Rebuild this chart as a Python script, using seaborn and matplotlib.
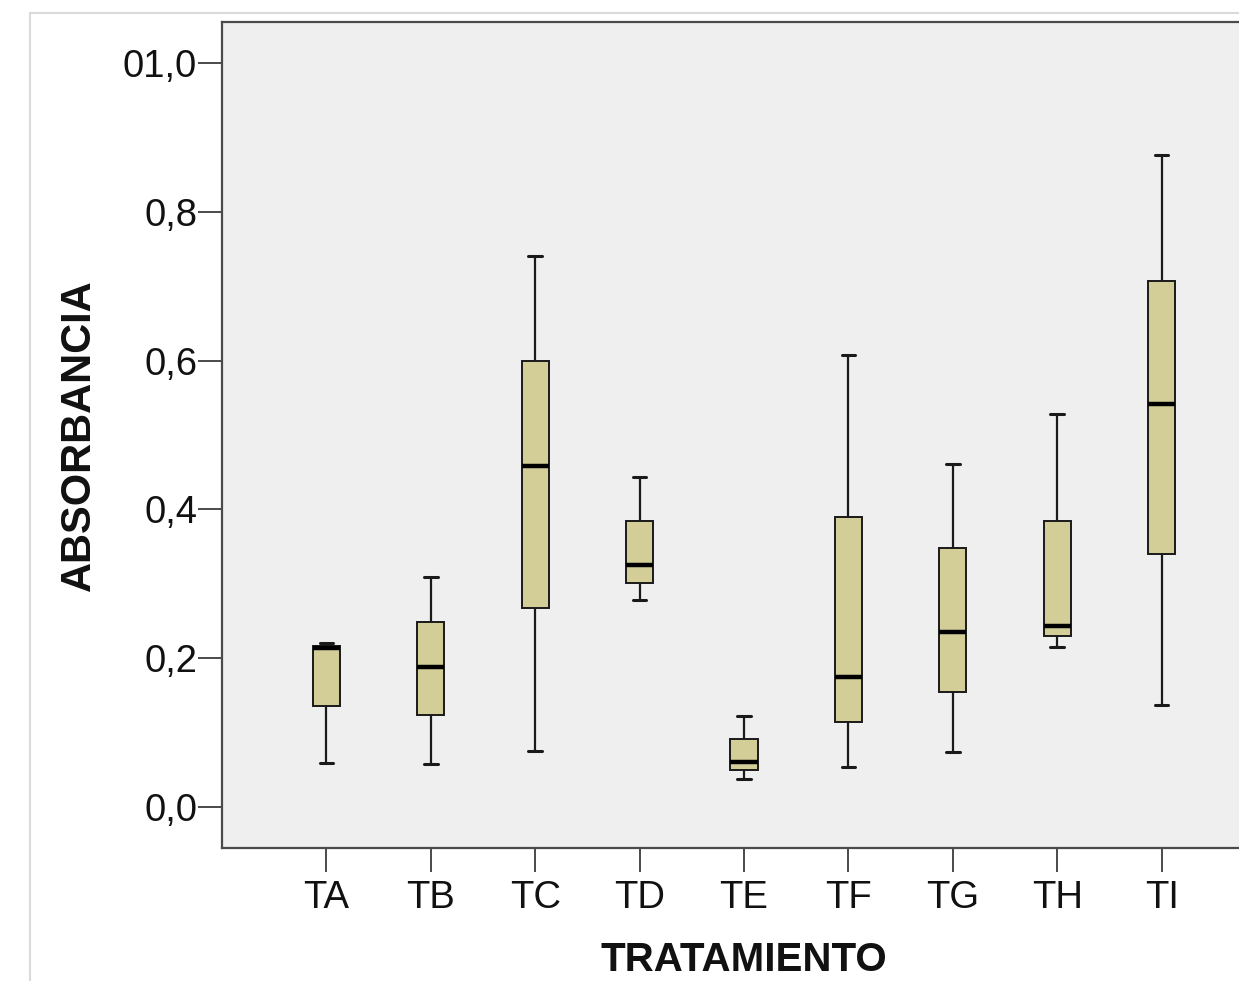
import numpy as np
import pandas as pd
import matplotlib
matplotlib.use("Agg")
import matplotlib.pyplot as plt
from matplotlib.patches import Rectangle
import seaborn as sns

# Categories and five-number summaries
categories = ["TA", "TB", "TC", "TD", "TE", "TF", "TG", "TH", "TI"]
lower_whisker = [0.059, 0.058, 0.075, 0.278, 0.038, 0.054, 0.074, 0.215, 0.137]
q1_values     = [0.136, 0.124, 0.267, 0.301, 0.050, 0.114, 0.155, 0.230, 0.340]
medians       = [0.214, 0.188, 0.458, 0.325, 0.060, 0.175, 0.235, 0.243, 0.542]
q3_values     = [0.217, 0.249, 0.599, 0.384, 0.091, 0.390, 0.348, 0.384, 0.707]
upper_whisker = [0.221, 0.309, 0.741, 0.444, 0.122, 0.608, 0.461, 0.528, 0.876]
ytick_values = [0.0, 0.2, 0.4, 0.6, 0.8, 1.0]
ytick_labels = ["0,0", "0,2", "0,4", "0,6", "0,8", "01,0"]

rows = []
for i, c in enumerate(categories):
    for v in (lower_whisker[i], q1_values[i], medians[i], q3_values[i], upper_whisker[i]):
        rows.append({"TRATAMIENTO": c, "ABSORBANCIA": v})
df = pd.DataFrame(rows)

sns.set_theme(style="ticks")
plt.rcParams["font.family"] = ["Liberation Sans", "DejaVu Sans"]

W, H = 1239, 981
fig = plt.figure(figsize=(W / 100, H / 100), dpi=100)
fig.patch.set_facecolor("white")
fig.patches.append(Rectangle((30 / W, -0.1), 2, (H - 13) / H + 0.1, transform=fig.transFigure,
                             fill=False, edgecolor="#DADADA", linewidth=1.5))

ax_left, ax_right, ax_top, ax_bottom = 222, 1266, 22, 848
ax = fig.add_axes([ax_left / W, (H - ax_bottom) / H, (ax_right - ax_left) / W, (ax_bottom - ax_top) / H])
ax.set_facecolor("#EFEFEF")

sns.boxplot(data=df, x="TRATAMIENTO", y="ABSORBANCIA", order=categories,
            color="#D3CE97", saturation=1, width=0.26, whis=(0, 100),
            linecolor="#1a1a1a", linewidth=1.4,
            medianprops=dict(color="black", linewidth=3.2),
            whiskerprops=dict(color="#1a1a1a", linewidth=1.6),
            capprops=dict(color="#1a1a1a", linewidth=2.2),
            ax=ax)

ax.set_xlim(-1, 9)
ax.set_ylim(-0.055, 1.055)
ax.set_yticks(ytick_values)
ax.set_yticklabels(ytick_labels)

for s in ["left", "bottom", "top", "right"]:
    ax.spines[s].set_color("#4a4a4a")
    ax.spines[s].set_linewidth(1.6)
    ax.spines[s].set_visible(True)

ax.tick_params(axis="both", direction="out", length=17, width=1.4, color="#4a4a4a",
               labelsize=27.5, labelcolor="#111111")
ax.tick_params(axis="y", pad=1)
ax.tick_params(axis="x", pad=6)

ax.set_xlabel("TRATAMIENTO", fontsize=29, fontweight="bold", color="#111111")
ax.set_ylabel("ABSORBANCIA", fontsize=30, fontweight="bold", color="#111111")
ax.xaxis.set_label_coords(0.5, -0.113)
ax.yaxis.set_label_coords(-0.118, 0.5)

fig.savefig("out.png", dpi=100)
